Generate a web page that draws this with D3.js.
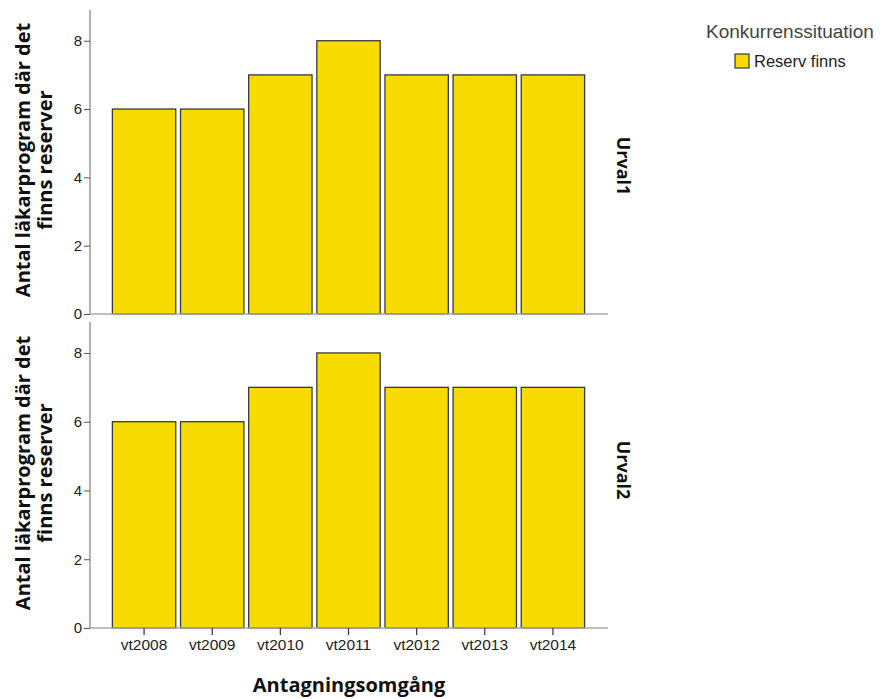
<!doctype html>
<html lang="en">
<head>
  <meta charset="utf-8">
  <script src="https://d3js.org/d3.v7.min.js"></script>
  <style>
    body { margin: 0; background: #fff; }
    text { font-family: "Liberation Sans", Arial, sans-serif; }
    .bold { font-family: "Open Sans", "Noto Sans", sans-serif; font-weight: bold; fill: #111; }
  </style>
</head>
<body>
  <div id="chart"></div>
  <script>
    // Data
    var rounds = ["vt2008", "vt2009", "vt2010", "vt2011", "vt2012", "vt2013", "vt2014"];
    var panels = ["Urval1", "Urval2"];
    var urval1 = [6, 6, 7, 8, 7, 7, 7];
    var urval2 = [6, 6, 7, 8, 7, 7, 7];
    var yTicks = [0, 2, 4, 6, 8];
    var seriesName = "Reserv finns";
    var legendTitle = "Konkurrenssituation";

    var width = 882, height = 699;
    var svg = d3.select("#chart").append("svg")
                .attr("width", width)
                .attr("height", height);

    var axisX = 90, axisEnd = 608;
    var x = d3.scaleBand().domain(rounds).range([110, 587]).paddingInner(0.07).paddingOuter(0.035);

    var panelBoxes = [{top: 10, bottom: 314, label: 166}, {top: 322, bottom: 628, label: 470}];
    var values = [urval1, urval2];

    panels.forEach(function(name, p) {
      var box = panelBoxes[p];
      var y = d3.scaleLinear().domain([0, 8.9]).range([box.bottom, box.top]);
      var g = svg.append("g");

      // bars
      g.selectAll("rect").data(values[p]).enter()
        .append("rect")
        .attr("x", function(d, i) { return x(rounds[i]); })
        .attr("y", function(d) { return y(d); })
        .attr("width", x.bandwidth())
        .attr("height", function(d) { return y(0) - y(d); })
        .attr("fill", "#f7db00")
        .attr("stroke", "#3a3a3a")
        .attr("stroke-width", 1.3);

      // baseline
      g.append("line")
        .attr("x1", axisX).attr("x2", axisEnd)
        .attr("y1", y(0)).attr("y2", y(0))
        .attr("stroke", "#aaa").attr("stroke-width", 1.5);

      // y axis
      var ya = g.append("g")
        .attr("transform", "translate(" + axisX + ",0)")
        .call(d3.axisLeft(y).tickValues(yTicks).tickSize(6).tickPadding(2));
      ya.select(".domain").attr("stroke", "#999").attr("stroke-width", 1.5)
        .attr("d", "M0," + box.top + "V" + box.bottom);
      ya.selectAll(".tick line").attr("stroke", "#555");
      ya.selectAll(".tick text").attr("font-size", 15).attr("fill", "#222")
        .attr("font-family", "Liberation Sans, Arial, sans-serif");

      // y axis title
      var cy = (box.top + box.bottom) / 2 - 2;
      var yt = g.append("text")
        .attr("class", "bold")
        .attr("transform", "translate(30," + cy + ") rotate(-90)")
        .attr("text-anchor", "middle")
        .attr("font-size", 20);
      yt.append("tspan").attr("x", 0).attr("dy", 0).text("Antal läkarprogram där det");
      yt.append("tspan").attr("x", 0).attr("dy", 22).text("finns reserver");

      // panel label
      g.append("text")
        .attr("class", "bold")
        .attr("transform", "translate(617," + box.label + ") rotate(90)")
        .attr("text-anchor", "middle")
        .attr("font-size", 18)
        .text(name);

      if (p === 1) {
        var xa = g.append("g")
          .attr("transform", "translate(0," + box.bottom + ")")
          .call(d3.axisBottom(x).tickSize(7).tickPadding(4));
        xa.select(".domain").remove();
        xa.selectAll(".tick line").attr("stroke", "#333").attr("stroke-width", 1.2);
        xa.selectAll(".tick text").attr("font-size", 15.5).attr("fill", "#222")
          .attr("font-family", "Liberation Sans, Arial, sans-serif");
      }
    });

    // x axis title
    svg.append("text")
      .attr("class", "bold")
      .attr("x", 349).attr("y", 692)
      .attr("text-anchor", "middle")
      .attr("font-size", 20)
      .text("Antagningsomgång");

    // legend
    svg.append("text")
      .attr("x", 706).attr("y", 38)
      .attr("font-size", 19).attr("fill", "#444")
      .text(legendTitle);
    svg.append("rect")
      .attr("x", 735).attr("y", 54).attr("width", 14).attr("height", 14)
      .attr("fill", "#f7db00").attr("stroke", "#444").attr("stroke-width", 1.3);
    svg.append("text")
      .attr("x", 754).attr("y", 67)
      .attr("font-size", 16.5).attr("fill", "#222")
      .text(seriesName);
  </script>
</body>
</html>
